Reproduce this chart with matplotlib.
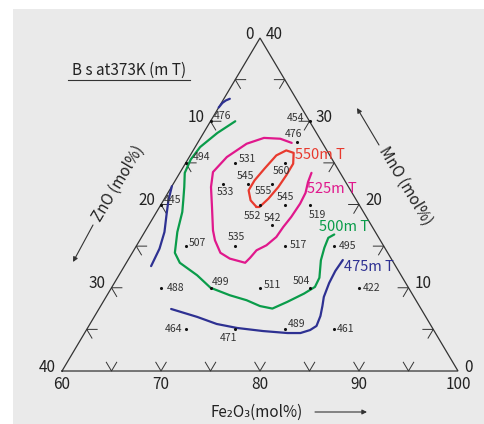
import matplotlib
matplotlib.use("Agg")
import matplotlib.pyplot as plt
from matplotlib.patches import Rectangle
from matplotlib.lines import Line2D

plt.rcParams['font.family'] = ['Noto Sans CJK JP', 'DejaVu Sans']

# ---------------- data (Fe2O3, MnO in mol%; ZnO = 100 - Fe2O3 - MnO) -------------
pt_fe = [60, 60, 60, 70, 70, 65, 70, 67.5, 65, 70, 70, 72.5, 72.5, 75,
         65, 70, 75, 80, 65, 70, 75, 80, 85, 70, 75, 80, 85]
pt_mn = [30, 25, 20, 30, 27.5, 25, 25, 22.5, 22.5, 22.5, 20, 20, 17.5, 20,
         15, 15, 15, 15, 10, 10, 10, 10, 10, 5, 5, 5, 5]
pt_bs = [476, 494, 445, 454, 476, 531, 560, 545, 533, 555, 552, 545, 542, 519,
         507, 535, 517, 495, 488, 499, 511, 504, 422, 464, 471, 489, 461]

# contour lines (hand-drawn iso-Bs curves)
c550_fe = [69.8, 68.8, 68.0, 68.0, 68.3, 68.7, 69.4, 70.3, 70.9, 70.9, 70.8, 70.5, 70.1, 69.8]
c550_mn = [19.7, 20.5, 21.7, 22.9, 24.3, 25.9, 26.5, 26.2, 24.9, 23.5, 22.1, 20.7, 19.7, 19.7]

c525_fe = [69.5, 68.1, 66.4, 65.0, 63.8, 63.3, 64.0, 65.3, 66.8, 67.6, 68.9, 70.2, 72.0,
           72.2, 72.4, 73.1, 73.6, 73.7, 73.9, 74.0, 73.9, 73.5, 73.3]
c525_mn = [27.4, 27.9, 28.0, 27.3, 25.7, 23.9, 22.1, 19.7, 16.9, 15.7, 14.2, 13.5, 13.0,
           13.6, 14.5, 15.1, 16.1, 17.3, 18.5, 20.1, 21.4, 22.7, 23.8]

c500_fe = [62.5, 61.4, 60.5, 60.3, 60.5, 61.3, 62.0, 62.6, 63.3, 64.3, 65.4, 67.9, 70.0,
           72.4, 74.4, 76.1, 77.5, 78.6, 79.8, 80.5, 80.4, 79.5, 79.1, 78.9, 79.3]
c500_mn = [30.0, 28.6, 26.9, 25.4, 23.8, 22.1, 20.5, 19.1, 16.7, 14.2, 13.0, 11.5, 10.0,
           9.1, 8.5, 7.8, 7.5, 8.3, 9.3, 10.1, 11.2, 13.3, 14.8, 16.0, 16.4]

c475a_fe = [60.0, 60.1, 60.3, 60.6]
c475a_mn = [31.65, 32.2, 32.5, 32.7]
c475b_fe = [60.0, 60.5, 61.2, 62.0, 62.5, 62.7]
c475b_mn = [22.2, 20.5, 18.7, 16.7, 14.7, 12.6]
c475c_fe = [67.3, 70.4, 72.8, 75.1, 77.9, 80.5, 81.8, 82.6, 83.0, 82.8, 82.4, 82.0, 81.7, 81.6, 81.7]
c475c_mn = [7.45, 6.5, 5.65, 5.17, 4.8, 4.56, 4.56, 4.92, 5.41, 6.61, 7.81, 8.89, 10.57, 12.01, 13.33]

bottom_ticks = [60, 70, 80, 90, 100]      # Fe2O3
left_ticks = [0, 10, 20, 30, 40]          # ZnO
right_ticks = [40, 30, 20, 10, 0]         # MnO
minor_step = 5

contour_labels = ["550m T", "525m T", "500m T", "475m T"]
contour_colors = ["#e83a2e", "#e0188c", "#0a9c4a", "#2e3192"]

# ---------------- helpers ----------------
W, H = 485, 424


def xy(fe, mn):
    fe = list(fe) if hasattr(fe, '__len__') else [fe]
    mn = list(mn) if hasattr(mn, '__len__') else [mn]
    return [f + m / 2.0 for f, m in zip(fe, mn)], mn


def fp(x, y):
    return (x / W, 1 - y / H)


fig = plt.figure(figsize=(W / 100, H / 100), dpi=100)
fig.patch.set_facecolor("white")
fig.add_artist(Rectangle((13 / W, 0), (W - 13) / W, (H - 9) / H,
                         transform=fig.transFigure, facecolor="#eaeaea",
                         edgecolor="none", zorder=0))
ax = fig.add_axes([0, 0, 1, 1])
ax.set_facecolor("none")
ax.axis("off")
ax.set_xlim(53.737, 102.727)
ax.set_ylim(-6.366, 44.565)

edge_col = "#333333"
# triangle
tx, ty = xy([60, 100, 60, 60], [0, 0, 40, 0])
ax.plot(tx, ty, color=edge_col, lw=0.9, zorder=2, solid_joinstyle="miter")

L = 1.05
tk = dict(color=edge_col, lw=0.7, zorder=2)
for v in range(5, 40, minor_step):
    # bottom edge (MnO=0), Fe2O3 = 60+v
    f = 60 + v
    x, y = xy([f - L, f, f], [L, 0, L])
    ax.plot(x, y, **tk)
    # left edge (Fe2O3 = 60), ZnO = v
    m = 40 - v
    x, y = xy([60 + L, 60, 60 + L], [m, m, m - L])
    ax.plot(x, y, **tk)
    # right edge (ZnO = 0), MnO = v
    f = 100 - v
    x, y = xy([f - L, f, f], [v, v, v - L])
    ax.plot(x, y, **tk)

# tick labels
lab = dict(fontsize=11, color="#222222", zorder=5)
for v in bottom_ticks:
    x, y = xy([v], [0])
    ax.annotate(str(v), (x[0], y[0]), xytext=(0, -13), textcoords="offset pixels",
                ha="center", va="center", **lab)
for v in left_ticks:
    x, y = xy([60], [40 - v])
    ax.annotate(str(v), (x[0], y[0]), xytext=(-6, 4), textcoords="offset pixels",
                ha="right", va="center", **lab)
for v in right_ticks:
    x, y = xy([100 - v], [v])
    ax.annotate(str(v), (x[0], y[0]), xytext=(6, 4), textcoords="offset pixels",
                ha="left", va="center", **lab)

# contours
lw = 1.6
for fe, mn, c in [(c550_fe, c550_mn, contour_colors[0]),
                  (c525_fe, c525_mn, contour_colors[1]),
                  (c500_fe, c500_mn, contour_colors[2]),
                  (c475a_fe, c475a_mn, contour_colors[3]),
                  (c475b_fe, c475b_mn, contour_colors[3]),
                  (c475c_fe, c475c_mn, contour_colors[3])]:
    x, y = xy(fe, mn)
    ax.plot(x, y, color=c, lw=lw, solid_joinstyle="round", solid_capstyle="round", zorder=3)

# contour labels (pixel layout positions)
for t, c, (px, py) in zip(contour_labels, contour_colors,
                          [(320, 155), (332, 189), (344, 227), (369, 267)]):
    fig.text(*fp(px, py), t, color=c, fontsize=10.5, ha="center", va="center")

# data points
x, y = xy(pt_fe, pt_mn)
ax.scatter(x, y, s=5, color="#111111", zorder=4, linewidths=0)
offs = [(12.5, -5), (15.5, -6), (11.5, -4.5), (-14, -3), (-3.5, -8.5), (12, -3.5),
        (-3, 8.5), (-2.5, -7.5), (2.3, 8.3), (-9.3, 7.7), (-7.3, 11.7), (1, -7.3),
        (0, -7.7), (8.3, 10.3), (12, -3.3), (0.7, -8.7), (13.5, -1), (13, 0),
        (14.4, 0), (10.4, -5.6), (12, -2.4), (-7.8, -6.7), (13, 0), (-12, 0),
        (-6.3, 8.4), (12.2, -5.7), (11.3, 0)]
for xi, yi, b, (dx, dy) in zip(x, y, pt_bs, offs):
    ax.annotate(str(b), (xi, yi), xytext=(dx, -dy), textcoords="offset pixels",
                ha="center", va="center", fontsize=7.5, color="#333333", zorder=5)

# title
fig.text(*fp(129, 70), "B s at373K (m T)", fontsize=11, color="#222222",
         ha="center", va="center")
fig.add_artist(Line2D([68 / W, 190 / W], [1 - 80 / H] * 2, color=edge_col, lw=0.8))

# axis titles
fig.text(*fp(257, 412), "Fe₂O₃(mol%)", fontsize=11, color="#222222",
         ha="center", va="center")
fig.text(*fp(118, 184), "ZnO (mol%)", fontsize=11, color="#222222",
         ha="center", va="center", rotation=59, rotation_mode="anchor")
fig.text(*fp(405, 186), "MnO (mol%)", fontsize=11, color="#222222",
         ha="center", va="center", rotation=-59, rotation_mode="anchor")

arr = dict(arrowstyle="-|>", color=edge_col, lw=0.8, mutation_scale=7,
           shrinkA=0, shrinkB=0)
for tail, head in [((315, 412), (367, 412)), ((93, 225), (73, 262)),
                   ((379, 145), (357, 108))]:
    ax.annotate("", xy=fp(*head), xytext=fp(*tail), xycoords="figure fraction",
                textcoords="figure fraction", arrowprops=arr)

fig.savefig("out.png", dpi=100, facecolor=fig.get_facecolor())
